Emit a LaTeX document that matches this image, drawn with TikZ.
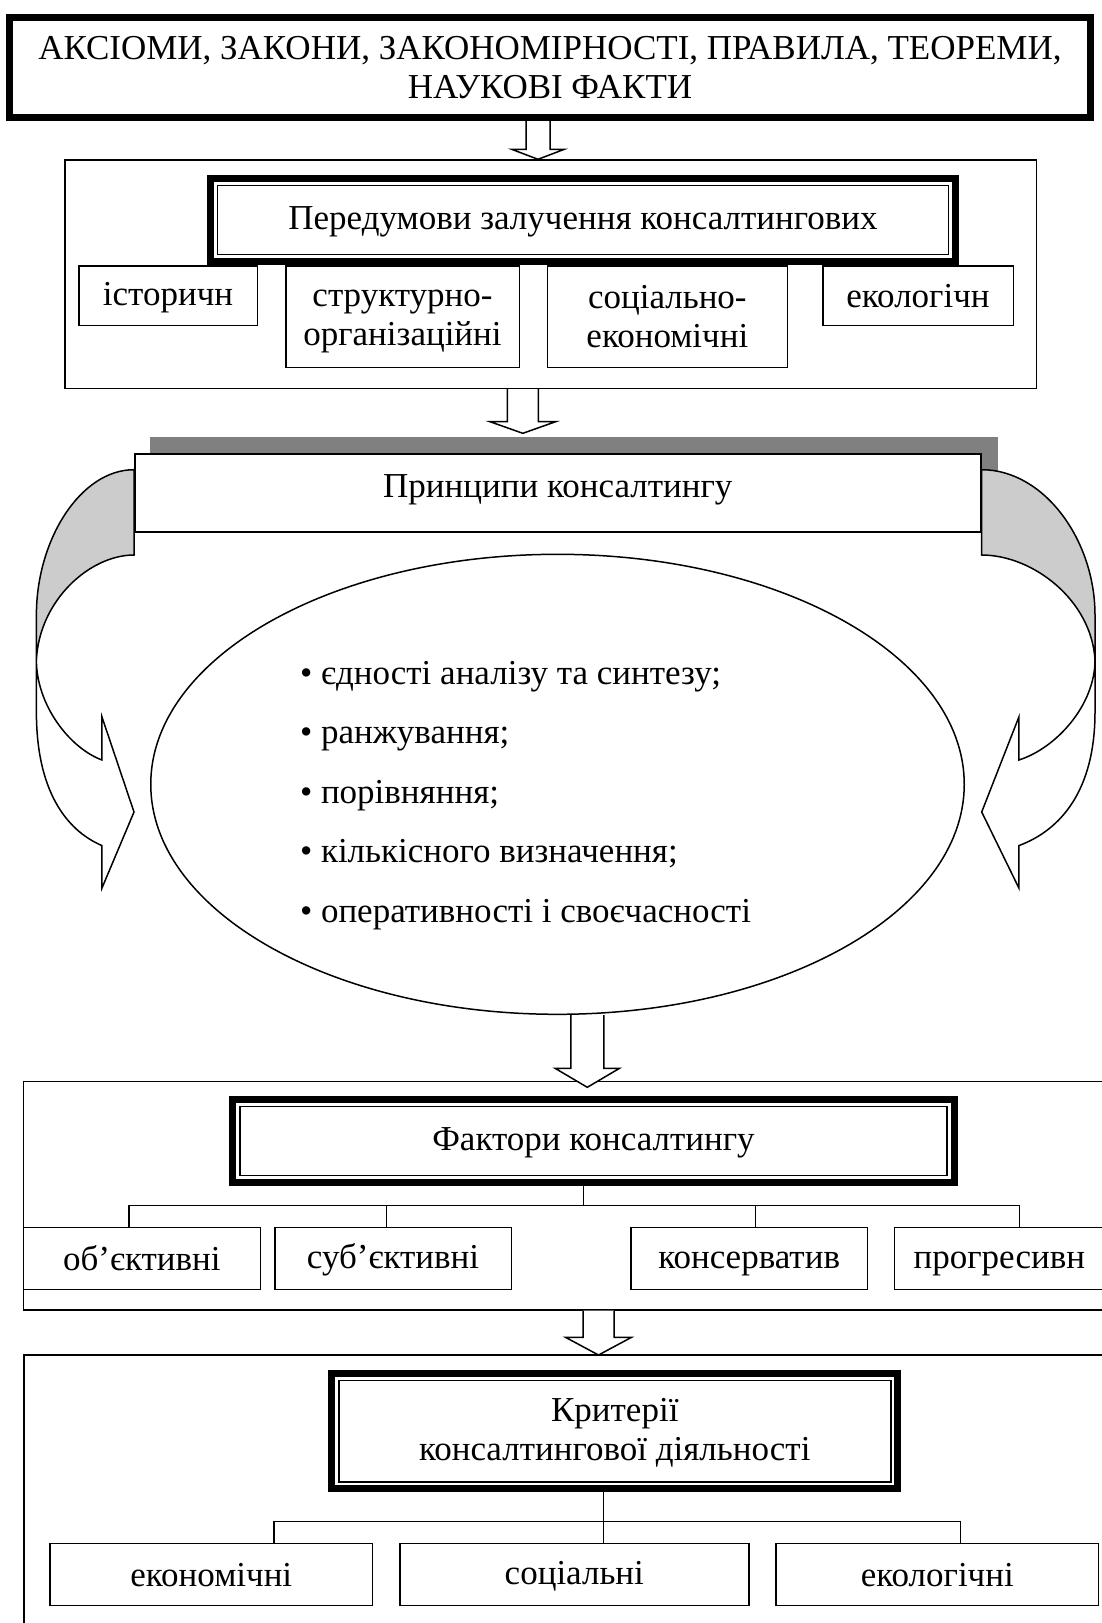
\documentclass[tikz,border=0pt]{standalone}
\usepackage{fontspec}
\setmainfont{Liberation Serif}
\usetikzlibrary{shapes.geometric}
\definecolor{lgray}{RGB}{204,204,204}
\definecolor{dgray}{RGB}{128,128,128}
% uniform strut for text lines
\newcommand\st{\rule[-3.6pt]{0pt}{31pt}}
\newcommand\sthi{\rule[-14pt]{0pt}{31pt}}
% box by outer extents: #1 name, #2 style, #3 line width, #4 x1, #5 y1, #6 x2, #7 y2, #8 text
\newcommand\mybox[8]{\node[#2, line width=#3pt, minimum width={#6-#4-#3}, minimum height={#7-#5-#3}] (#1) at ({(#4+#6)/2},{(#5+#7)/2}) {#8};}
% inner thin line of a double box
\newcommand\innerline[1]{\draw[line width=1.5pt] ([xshift=7pt,yshift=-7pt]#1.north west) rectangle ([xshift=-7pt,yshift=7pt]#1.south east);}
% block arrow down: #1 cx, #2 top y, #3 base of head, #4 tip y, #5 shaft half width, #6 head half width
\newcommand\blockarrow[6]{\filldraw[arrowshape] ({#1-#5},#2) -- ({#1-#5},#3) -- ({#1-#6},#3) -- (#1,#4) -- ({#1+#6},#3) -- ({#1+#5},#3) -- ({#1+#5},#2);}
% curved arrow: #1 edge x, #2 direction sign, #3 width
\newcommand\curvarrow[3]{%
  \filldraw[fill=lgray, line width=1.5pt]
    (#1,469.7) .. controls ({#1+#2*#3*0.55},469.7) and ({#1+#2*#3},540) .. ({#1+#2*#3},615)
    -- ({#1+#2*#3},660)
    .. controls ({#1+#2*#3*0.97},600) and ({#1+#2*#3*0.45},555) .. (#1,555) -- cycle;
  \filldraw[fill=white, line width=1.5pt, line join=miter]
    ({#1+#2*#3},660) -- ({#1+#2*#3},712) .. controls ({#1+#2*#3},790) and ({#1+#2*#3*0.70},830) .. ({#1+#2*#3*0.328},845.6)
    -- ({#1+#2*#3*0.328},888) -- (#1,812) -- ({#1+#2*#3*0.328},717) -- ({#1+#2*#3*0.328},760)
    .. controls ({#1+#2*#3*0.66},748) and ({#1+#2*#3},705) .. ({#1+#2*#3},660) -- cycle;}
\begin{document}
\begin{tikzpicture}[x=1pt,y=-1pt,
  every node/.style={font=\fontsize{35}{39}\selectfont, inner sep=0pt, outer sep=0pt},
  bx/.style={draw, fill=white, align=center},
  hb/.style={draw, fill=white, align=center},
  arrowshape/.style={draw, fill=white, line width=1.5pt, line join=miter},
  ln/.style={draw, line width=1.3pt},
  bul/.style={anchor=base west}]
\useasboundingbox (0,0) rectangle (1102,1623);
\fill[white] (0,0) rectangle (1102,1623);

% top block
\mybox{top}{hb}{7}{6}{14}{1094}{121}{\st АКСІОМИ, ЗАКОНИ, ЗАКОНОМІРНОСТІ, ПРАВИЛА, ТЕОРЕМИ,\\\st НАУКОВІ ФАКТИ}

% prerequisites
\mybox{pre}{bx}{1.5}{64}{159.3}{1037}{389}{}
\mybox{preh}{hb}{7}{207}{175}{959}{265}{\st Передумови залучення консалтингових}
\innerline{preh}
\mybox{p1}{bx}{1.5}{78}{265}{258}{326}{\st історичн}
\mybox{p2}{bx}{1.5}{285}{265}{520}{368}{\st структурно-\\\st організаційні}
\mybox{p3}{bx}{1.5}{546.7}{265}{788}{368}{\st соціально-\\\st економічні}
\mybox{p4}{bx}{1.5}{822}{265}{1014}{326}{\st екологічн}

% principles
\fill[dgray] (150,436.7) rectangle (997.7,516.7);
\mybox{pr}{bx}{1.5}{134}{453.3}{981.7}{532.7}{\sthi Принципи консалтингу}
\curvarrow{134}{-1}{97.6}
\curvarrow{981.7}{1}{113.3}
\node[ellipse, draw, line width=1.5pt, fill=white, minimum width=813.5, minimum height=460] (el) at (557.5,784.3) {};
\node[bul] (b1) at (300,684) {• єдності аналізу та синтезу;};
\node[bul] (b2) at (300,743.5) {• ранжування;};
\node[bul] (b3) at (300,803) {• порівняння;};
\node[bul] (b4) at (300,862.5) {• кількісного визначення;};
\node[bul] (b5) at (300,922) {• оперативності і своєчасності};

% factors
\mybox{fac}{bx}{1.5}{22.7}{1080.7}{1108}{1310.7}{}
\mybox{fach}{hb}{7}{229.3}{1096}{957.7}{1186}{\st Фактори консалтингу}
\innerline{fach}
\mybox{f1}{bx}{1.5}{22.7}{1226.7}{261}{1290}{\st об’єктивні}
\mybox{f2}{bx}{1.5}{274}{1226.7}{512}{1290}{\st суб’єктивні}
\mybox{f3}{bx}{1.5}{630.3}{1226.7}{868}{1290}{\st консерватив}
\mybox{f4}{bx}{1.5}{893.7}{1226.7}{1105}{1290}{\st прогресивн}
\coordinate (fj) at (583.7,1205.7);
\coordinate (fa) at (129,1205.7);
\coordinate (fb) at (386.7,1205.7);
\coordinate (fc) at (755.3,1205.7);
\coordinate (fd) at (1019.7,1205.7);
\draw[ln] (fj |- fach.south) -- (fj);
\draw[ln] (fa |- f1.north) -- (fa) -- (fd) -- (fd |- f4.north);
\draw[ln] (fb) -- (fb |- f2.north);
\draw[ln] (fc) -- (fc |- f3.north);

% criteria
\mybox{cri}{bx}{1.5}{23.3}{1354.3}{1108}{1650}{}
\mybox{crih}{hb}{7}{328.3}{1370}{901.3}{1492.3}{\st Критерії\\\st консалтингової діяльності}
\innerline{crih}
\mybox{c1}{bx}{1.5}{49.3}{1542.7}{373.3}{1606}{\st економічні}
\mybox{c2}{bx}{1.5}{399}{1542.7}{749.7}{1606}{\st соціальні}
\mybox{c3}{bx}{1.5}{775.3}{1542.7}{1099.3}{1606}{\st екологічні}
\coordinate (ca) at (274,1521.7);
\coordinate (cb) at (603.7,1521.7);
\coordinate (cc) at (960.3,1521.7);
\draw[ln] (cb |- crih.south) -- (cb |- c2.north);
\draw[ln] (ca |- c1.north) -- (ca) -- (cc) -- (cc |- c3.north);

% block arrows
\blockarrow{538}{121}{149.3}{159.3}{12}{26.3}
\blockarrow{522.8}{389}{421.7}{433.3}{15.5}{32.8}
\blockarrow{587.3}{1015}{1068.3}{1087.3}{16.5}{32.2}
\blockarrow{598.5}{1310.7}{1337.3}{1355}{15.5}{33}
\end{tikzpicture}
\end{document}
